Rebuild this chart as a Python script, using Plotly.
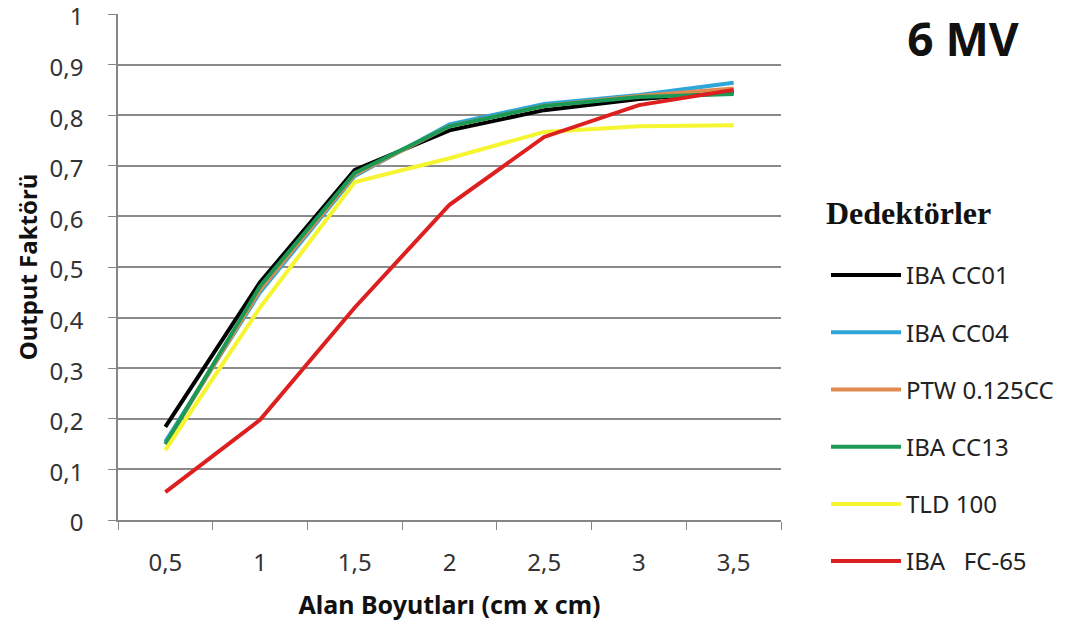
import plotly.graph_objects as go

categories = ["0,5", "1", "1,5", "2", "2,5", "3", "3,5"]

series_names = ["IBA CC01", "IBA CC04", "PTW 0.125CC", "IBA CC13", "TLD 100", "IBA   FC-65"]
iba_cc01 = [0.184, 0.470, 0.692, 0.770, 0.810, 0.832, 0.845]
iba_cc04 = [0.155, 0.450, 0.680, 0.782, 0.822, 0.840, 0.864]
ptw_0125 = [0.150, 0.455, 0.683, 0.778, 0.818, 0.838, 0.853]
iba_cc13 = [0.150, 0.462, 0.686, 0.778, 0.818, 0.836, 0.842]
tld_100 = [0.138, 0.420, 0.668, 0.715, 0.767, 0.778, 0.780]
iba_fc65 = [0.055, 0.198, 0.420, 0.623, 0.757, 0.820, 0.850]

series_values = [iba_cc01, iba_cc04, ptw_0125, iba_cc13, tld_100, iba_fc65]
series_colors = ["#000000", "#2fa6d8", "#e08a50", "#1c9a55", "#f5f532", "#dd1f1f"]

y_tickvals = [0, 0.1, 0.2, 0.3, 0.4, 0.5, 0.6, 0.7, 0.8, 0.9, 1]
y_ticktext = ["0", "0,1", "0,2", "0,3", "0,4", "0,5", "0,6", "0,7", "0,8", "0,9", "1"]

W, H = 1088, 634
ML, MR, MT, MB = 118, 307, 14, 114
PW, PH = W - ML - MR, H - MT - MB

fig = go.Figure()
for i, (name, vals, col) in enumerate(zip(series_names, series_values, series_colors)):
    fig.add_trace(go.Scatter(
        x=categories, y=vals, name=name, mode="lines",
        line=dict(color=col, width=4),
        legendgroup=f"g{i}",
    ))

font_main = "Noto Sans, Open Sans, sans-serif"

fig.update_layout(
    width=W, height=H,
    paper_bgcolor="white", plot_bgcolor="white",
    margin=dict(l=ML, r=MR, t=MT, b=MB),
    title=dict(text="<b>6 MV</b>", x=963 / W, xref="container", xanchor="center",
               y=1 - 40 / H, yref="container", yanchor="middle",
               font=dict(family=font_main, size=46, color="#111111")),
    legend=dict(
        xref="container", yref="container",
        x=826 / W, xanchor="left", y=1 - 253 / H, yanchor="top",
        font=dict(family=font_main, size=24, color="#222222"),
        itemwidth=70, tracegroupgap=23, maxheight=620,
        bgcolor="rgba(0,0,0,0)",
    ),
    showlegend=True,
    annotations=[dict(
        text="<b>Dedektörler</b>", xref="paper", yref="paper",
        x=(824 - ML) / PW, y=1 - (213 - MT) / PH,
        xanchor="left", yanchor="middle", showarrow=False,
        font=dict(family="Liberation Serif, Times New Roman, serif", size=32, color="#111111"),
    )],
)

fig.update_xaxes(
    type="category", range=[-0.5, 6.5], automargin=False,
    tickson="boundaries", ticks="outside", ticklen=8, tickcolor="#868686",
    ticklabelstandoff=20, ticklabeloverflow="allow",
    showline=True, linecolor="#868686", linewidth=1.5,
    showgrid=False,
    tickfont=dict(family=font_main, size=24, color="#333333"),
    title=dict(text="<b>Alan Boyutları (cm x cm)</b>", standoff=20,
               font=dict(family=font_main, size=25, color="#111111")),
)
fig.update_yaxes(
    range=[0, 1], tickvals=y_tickvals, ticktext=y_ticktext, automargin=False,
    ticks="outside", ticklen=8, tickcolor="#868686",
    ticklabelstandoff=20, ticklabeloverflow="allow", ticklabelshift=3,
    showline=True, linecolor="#868686", linewidth=1.5,
    showgrid=True, gridcolor="#8a8a8a", gridwidth=1.5,
    zeroline=False,
    tickfont=dict(family=font_main, size=24, color="#333333"),
    title=dict(text="<b>Output Faktörü</b>", standoff=5,
               font=dict(family=font_main, size=24, color="#111111")),
)

fig.write_html("out.html", config={"displayModeBar": False},
               post_script="document.body.style.margin='0';")
